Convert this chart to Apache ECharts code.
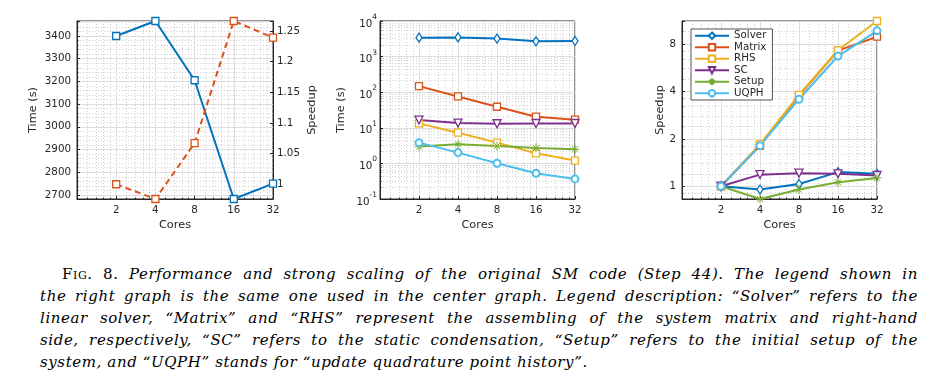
<!DOCTYPE html>
<html>
<head>
<meta charset="utf-8">
<script src="https://cdn.jsdelivr.net/npm/echarts@6/dist/echarts.min.js"></script>
<style>
  html, body { margin: 0; padding: 0; background: #fff; }
  #wrap { position: relative; width: 930px; height: 388px; overflow: hidden; }
  #chart { position: absolute; left: 0; top: 0; width: 930px; height: 250px; }
  #caption { position: absolute; left: 40px; top: 263px; width: 878px; font-family: "DejaVu Serif", serif; font-style: italic; font-size: 15px; line-height: 22px; color: #000; letter-spacing: 0.6px; }
  #caption div { white-space: nowrap; text-align: justify; text-align-last: justify; }
  #caption div.last { text-align: left; text-align-last: left; }
  .sc { font-style: normal; font-variant: small-caps; }
</style>
</head>
<body>
<div id="wrap">
  <div id="chart"></div>
  <div id="caption">
    <div style="text-indent:22px"><span class="sc">Fig. 8.</span> Performance and strong scaling of the original SM code (Step 44). The legend shown in</div>
    <div>the right graph is the same one used in the center graph. Legend description: “Solver” refers to the</div>
    <div>linear solver, “Matrix” and “RHS” represent the assembling of the system matrix and right-hand</div>
    <div>side, respectively, “SC” refers to the static condensation, “Setup” refers to the initial setup of the</div>
    <div class="last">system, and “UQPH” stands for “update quadrature point history”.</div>
  </div>
</div>
<script>
// ---- data ----
var cores = [2, 4, 8, 16, 32];
// left plot
var solverTimeLeft = [3400, 3466, 3205, 2682, 2750];
var solverSpeedupLeft = [1, 0.976, 1.067, 1.266, 1.239];
// center plot (time, s)
var timeSolver = [3400, 3466, 3205, 2682, 2750];
var timeMatrix = [148, 76, 39, 20.5, 16.9];
var timeRHS = [13.3, 7.3, 3.83, 1.92, 1.2];
var timeSC = [16.5, 13.6, 13.0, 13.2, 13.2];
var timeSetup = [2.96, 3.44, 3.09, 2.71, 2.49];
var timeUQPH = [3.83, 2.01, 1.01, 0.53, 0.367];
// right plot (speedup)
var spSolver = [1, 0.953, 1.034, 1.23, 1.20];
var spMatrix = [1, 1.81, 3.77, 7.26, 8.9];
var spRHS = [1, 1.85, 3.8, 7.3, 11.2];
var spSC = [1, 1.185, 1.21, 1.20, 1.17];
var spSetup = [1, 0.83, 0.953, 1.06, 1.13];
var spUQPH = [1, 1.81, 3.57, 6.71, 9.7];
var seriesNames = ['Solver', 'Matrix', 'RHS', 'SC', 'Setup', 'UQPH'];
var xTickLabels = ['2', '4', '8', '16', '32'];

// ---- styles ----
var C = ['#0072BD', '#D95319', '#EDB120', '#7E2F8E', '#77AC30', '#4DBEEE'];
var SYM = [
  'path://M0,-1 L0.55,0 L0,1 L-0.55,0 Z',
  'path://M-1,-1 L1,-1 L1,1 L-1,1 Z',
  'path://M-1,-1 L1,-1 L1,1 L-1,1 Z',
  'path://M-1,-0.9 L1,-0.9 L0,0.9 Z',
  'path://M0,-1 L0,1 M-1,0 L1,0 M-0.7,-0.7 L0.7,0.7 M-0.7,0.7 L0.7,-0.7',
  'emptyCircle'
];
var SYMSIZE = [[6, 9], 7, 7, 8, 9, 7];
var TXT = '#262626';
var FONT = 'DejaVu Sans';
var TICKFS = 10.3, LABFS = 11.3;

function pairs(xs, ys) { return xs.map(function (x, i) { return [x, ys[i]]; }); }

function xAxisCfg(gi) {
  return {
    type: 'log', logBase: 2, min: 1, max: 32, gridIndex: gi, splitNumber: 5,
    name: 'Cores', nameLocation: 'middle', nameGap: 19,
    nameTextStyle: { color: TXT, fontSize: LABFS, fontFamily: FONT },
    axisLine: { show: true, lineStyle: { color: TXT, width: 1 } },
    axisTick: { show: true, inside: true, length: 3, lineStyle: { color: TXT } },
    minorTick: { show: true, splitNumber: 5, length: 1.5, lineStyle: { color: TXT } },
    axisLabel: {
      color: TXT, fontSize: TICKFS, fontFamily: FONT, margin: 6, showMinLabel: true, showMaxLabel: true,
      formatter: function (v) {
        var r = Math.round(v);
        var idx = cores.indexOf(r);
        return (Math.abs(v - r) < 1e-6 && idx >= 0) ? xTickLabels[idx] : '';
      }
    },
    splitLine: { show: true, lineStyle: { color: '#dedede', width: 1 } },
    minorSplitLine: { show: true, lineStyle: { color: '#c4c4c4', width: 0.8, type: [1, 2] } }
  };
}

var baseY = {
  nameLocation: 'middle', nameRotate: 90,
  nameTextStyle: { color: TXT, fontSize: LABFS, fontFamily: FONT },
  axisLine: { show: true, lineStyle: { color: TXT, width: 1 } },
  axisTick: { show: true, inside: true, length: 3, lineStyle: { color: TXT } },
  splitLine: { show: true, lineStyle: { color: '#dedede', width: 1 } },
  minorSplitLine: { show: true, lineStyle: { color: '#c4c4c4', width: 0.8, type: [1, 2] } }
};
function ext(a, b) { return Object.assign({}, JSON.parse(JSON.stringify(a)), b); }

var superRich = {
  b: { fontSize: TICKFS, fontFamily: FONT, color: TXT, lineHeight: 16, verticalAlign: 'bottom' },
  e: { fontSize: 7.5, fontFamily: FONT, color: TXT, lineHeight: 10, verticalAlign: 'top' }
};

var yAxes = [
  ext(baseY, {
    gridIndex: 0, type: 'value', min: 2682, max: 3466, splitNumber: 8, position: 'left',
    name: 'Time (s)', nameGap: 38,
    minorTick: { show: true, splitNumber: 5, length: 1.5, lineStyle: { color: TXT } },
    axisLabel: {
      color: TXT, fontSize: TICKFS, fontFamily: FONT, margin: 6,
      formatter: function (v) { return (Math.abs(v / 100 - Math.round(v / 100)) < 1e-6) ? String(Math.round(v)) : ''; }
    }
  }),
  ext(baseY, {
    gridIndex: 0, type: 'value', min: 0.976, max: 1.266, splitNumber: 6, position: 'right',
    name: 'Speedup', nameGap: 34,
    splitLine: { show: false }, minorSplitLine: { show: false },
    axisLabel: {
      color: TXT, fontSize: TICKFS, fontFamily: FONT, margin: 4,
      formatter: function (v) {
        var k = v / 0.05;
        if (Math.abs(k - Math.round(k)) > 1e-6) return '';
        if (v < 0.999 || v > 1.251) return '';
        return String(parseFloat(v.toFixed(2)));
      }
    }
  }),
  ext(baseY, {
    gridIndex: 1, type: 'log', logBase: 10, min: 0.1, max: 10000, splitNumber: 5,
    name: 'Time (s)', nameGap: 33,
    minorTick: { show: true, splitNumber: 8, length: 1.5, lineStyle: { color: TXT } },
    axisLabel: {
      margin: 3, rich: superRich,
      formatter: function (v) {
        var e = Math.log10(v);
        if (Math.abs(e - Math.round(e)) > 1e-6) return '';
        return '{b|10}{e|' + Math.round(e) + '}';
      }
    }
  }),
  ext(baseY, {
    gridIndex: 2, type: 'log', logBase: 2, min: 0.83, max: 11.2, splitNumber: 4,
    name: 'Speedup', nameGap: 16,
    minorTick: { show: true, splitNumber: 5, length: 1.5, lineStyle: { color: TXT } },
    axisLabel: {
      color: TXT, fontSize: TICKFS, fontFamily: FONT, margin: 6,
      formatter: function (v) {
        var e = Math.log2(v);
        if (Math.abs(e - Math.round(e)) > 1e-6) return '';
        return String(Math.round(v));
      }
    }
  })
];

function lineSeries(name, xi, yi, data, k, extra) {
  var isEmptyBuiltin = (typeof SYM[k] === 'string' && SYM[k].indexOf('empty') === 0);
  var s = {
    name: name, type: 'line', xAxisIndex: xi, yAxisIndex: yi, data: data,
    symbol: SYM[k], symbolSize: SYMSIZE[k], showAllSymbol: true,
    color: C[k],
    lineStyle: { color: C[k], width: 2 },
    itemStyle: isEmptyBuiltin
      ? { color: C[k], borderColor: C[k], borderWidth: 1.3 }
      : { color: '#fff', borderColor: C[k], borderWidth: 1.3 },
    emphasis: { disabled: true },
    animation: false
  };
  if (k === 4) { s.itemStyle = { color: 'none', borderColor: C[k], borderWidth: 1 }; }
  return Object.assign(s, extra || {});
}

var timeSets = [timeSolver, timeMatrix, timeRHS, timeSC, timeSetup, timeUQPH];
var spSets = [spSolver, spMatrix, spRHS, spSC, spSetup, spUQPH];

var series = [];
series.push(lineSeries('SolverTimeL', 0, 0, pairs(cores, solverTimeLeft), 0, { symbol: SYM[1], symbolSize: 7 }));
series.push(lineSeries('SolverSpeedL', 0, 1, pairs(cores, solverSpeedupLeft), 1, {
  symbol: SYM[1], symbolSize: 7, lineStyle: { color: C[1], width: 2, type: [6, 4] }
}));
for (var k = 0; k < 6; k++) {
  series.push(lineSeries(seriesNames[k], 1, 2, pairs(cores, timeSets[k]), k));
}
for (var k2 = 0; k2 < 6; k2++) {
  series.push(lineSeries(seriesNames[k2], 2, 3, pairs(cores, spSets[k2]), k2));
}

var gridBase = { show: true, borderColor: TXT, borderWidth: 1, backgroundColor: 'transparent', containLabel: false };
var option = {
  animation: false,
  backgroundColor: '#fff',
  textStyle: { fontFamily: FONT },
  grid: [
    Object.assign({ left: 77, top: 21, width: 196, height: 178 }, gridBase),
    Object.assign({ left: 380, top: 21, width: 195, height: 178 }, gridBase),
    Object.assign({ left: 682, top: 21, width: 195, height: 178 }, gridBase)
  ],
  xAxis: [xAxisCfg(0), xAxisCfg(1), xAxisCfg(2)],
  yAxis: yAxes,
  legend: {
    data: seriesNames, orient: 'vertical', left: 691, top: 29,
    itemWidth: 34, itemHeight: 8, itemGap: 0,
    padding: [1, 6, 1, 3],
    backgroundColor: '#fff', borderColor: TXT, borderWidth: 0.8, borderRadius: 0,
    textStyle: { color: TXT, fontSize: TICKFS, fontFamily: FONT, lineHeight: 11.5 },
    selectedMode: false
  },
  series: series
};

var chart = echarts.init(document.getElementById('chart'), null, { renderer: 'canvas' });
chart.setOption(option);
</script>
</body>
</html>
